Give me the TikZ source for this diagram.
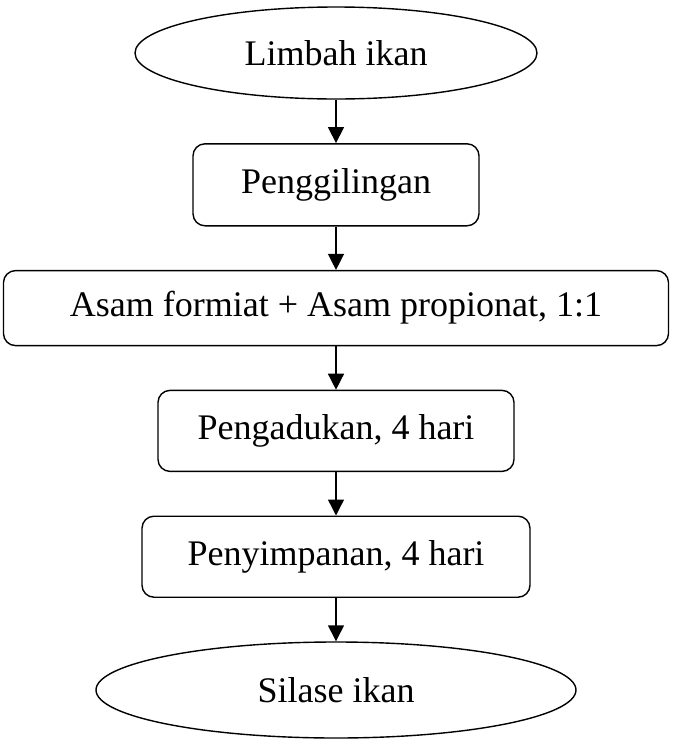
\documentclass[tikz,border=0pt]{standalone}
\usepackage{fontspec}
\setmainfont{Liberation Serif}
\usetikzlibrary{positioning,shapes.geometric,arrows.meta}
\begin{document}
\begin{tikzpicture}
	[font=\fontsize{18}{21.6}\selectfont,
	node distance=21.7pt,
	terminal/.style={draw,ellipse,line width=0.7pt,inner sep=0pt},
	process/.style={draw,rectangle,rounded corners=6pt,line width=0.7pt,inner sep=0pt,minimum height=40.5pt},
	flow/.style={-{Triangle[width=8pt,length=8pt]},line width=0.7pt}]
	\useasboundingbox (0,0) rectangle (336.5pt,-370pt);
	\node[terminal,minimum width=201pt,minimum height=46pt] (limbah) at (168pt,-26.5pt) {Limbah ikan};
	\node[process,minimum width=143pt,minimum height=41pt,below=of limbah] (giling) {Penggilingan};
	\node[process,minimum width=332.5pt,minimum height=37.5pt,below=of giling] (asam) {Asam formiat + Asam propionat, 1:1};
	\node[process,minimum width=178pt,below=of asam] (aduk) {Pengadukan, 4 hari};
	\node[process,minimum width=194pt,below=of aduk] (simpan) {Penyimpanan, 4 hari};
	\node[terminal,minimum width=240pt,minimum height=48pt,below=of simpan] (silase) {Silase ikan};
	% panah alur
	\draw[flow] (limbah) -- (giling);
	\draw[flow] (giling) -- (asam);
	\draw[flow] (asam) -- (aduk);
	\draw[flow] (aduk) -- (simpan);
	\draw[flow] (simpan) -- (silase);
\end{tikzpicture}
\end{document}
